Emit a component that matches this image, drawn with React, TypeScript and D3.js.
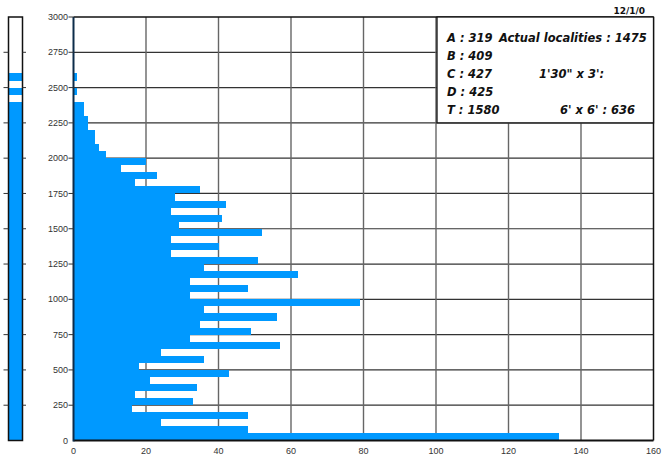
import React from "react";
import * as d3 from "d3";

// Histogram counts per 50-unit bin, from 0 upward (0-50, 50-100, ... 2950-3000)
const binSize = 50;
const counts: number[] = [
  134, 48, 24, 48, 16, 33, 17, 34, 21, 43,
  18, 36, 24, 57, 32, 49, 35, 56, 36, 79,
  32, 48, 32, 62, 36, 51, 27, 40, 27, 52,
  29, 41, 27, 42, 28, 35, 17, 23, 13, 20,
  9, 7, 6, 6, 4, 4, 3, 3, 0, 1,
  0, 1, 0, 0, 0, 0, 0, 0, 0, 0,
];
const yTicks: number[] = [0, 250, 500, 750, 1000, 1250, 1500, 1750, 2000, 2250, 2500, 2750, 3000];
const xTicks: number[] = [0, 20, 40, 60, 80, 100, 120, 140, 160];
const legendLeft: string[] = ["A : 319", "B : 409", "C : 427", "D : 425", "T : 1580"];
const legendRight: (string | null)[] = ["Actual localities : 1475", null, "1'30\" x 3':", null, "6' x 6' : 636"];
const legendRightX: number[] = [499, 0, 539, 0, 560];
const dateLabel = "12/1/0";

const BLUE = "#0099ff";

export default function App() {
  const x = d3.scaleLinear().domain([0, 160]).range([73.5, 653.5]);
  const y = d3.scaleLinear().domain([0, 3000]).range([440.5, 17]);
  const bins = counts.map((c, i) => ({ lo: i * binSize, hi: (i + 1) * binSize, c }));
  const stripX0 = 8.5, stripX1 = 22.5;
  const boxX = 437, boxY = y(3000), boxW = x(160) - 437, boxH = y(2250) - y(3000);
  const ry = (v: number) => Math.round(y(v));

  return (
    <svg width={664} height={458} style={{ position: "absolute", left: 0, top: 0, background: "#fff" }}
      fontFamily="'Liberation Sans', Arial, sans-serif">
      {/* left strip */}
      {bins.filter(b => b.c > 0).map((b, i) => (
        <rect key={"s" + i} x={stripX0} y={ry(b.hi)} width={stripX1 - stripX0} height={ry(b.lo) - ry(b.hi)} fill={BLUE} shapeRendering="crispEdges" />
      ))}
      <rect x={stripX0} y={y(3000)} width={stripX1 - stripX0} height={y(0) - y(3000)} fill="none" stroke="#111" strokeWidth={1.5} />
      {yTicks.filter(t => t > 0 && t < 3000).map(t => (
        <g key={"st" + t}>
          <line x1={3.5} x2={stripX0} y1={y(t)} y2={y(t)} stroke="#333" strokeWidth={1} />
          <line x1={stripX1} x2={26} y1={y(t)} y2={y(t)} stroke="#333" strokeWidth={1} />
        </g>
      ))}

      {/* gridlines */}
      {yTicks.filter(t => t > 0 && t < 3000).map(t => (
        <line key={"hg" + t} x1={x(0)} x2={x(160)} y1={y(t)} y2={y(t)} stroke="#333" strokeWidth={1.2} />
      ))}
      {xTicks.filter(t => t > 0 && t < 160).map(t => (
        <line key={"vg" + t} x1={x(t)} x2={x(t)} y1={y(3000)} y2={y(0)} stroke="#666" strokeWidth={1.4} />
      ))}

      {/* bars */}
      {bins.filter(b => b.c > 0).map((b, i) => (
        <rect key={"b" + i} x={x(0)} y={ry(b.hi)} width={x(b.c) - x(0)} height={ry(b.lo) - ry(b.hi)} fill={BLUE} shapeRendering="crispEdges" />
      ))}

      {/* frame */}
      <line x1={x(0)} x2={x(160)} y1={y(3000)} y2={y(3000)} stroke="#111" strokeWidth={1.5} />
      <line x1={x(160)} x2={x(160)} y1={y(3000)} y2={y(0)} stroke="#111" strokeWidth={1.5} />
      <line x1={x(0)} x2={x(160)} y1={y(0)} y2={y(0)} stroke="#111" strokeWidth={2} />
      <line x1={x(0)} x2={x(0)} y1={y(3000)} y2={y(0) + 1} stroke="#0d2c4a" strokeWidth={2} />

      {/* y axis ticks + labels */}
      {yTicks.map(t => (
        <g key={"yt" + t}>
          {t > 0 && <line x1={68.5} x2={x(0)} y1={y(t)} y2={y(t)} stroke="#333" strokeWidth={1} />}
          <text x={68} y={y(t)} dy="0.35em" textAnchor="end" fontSize={9} fill="#333">{t}</text>
        </g>
      ))}
      {/* x axis labels */}
      {xTicks.map(t => (
        <text key={"xt" + t} x={x(t)} y={454} textAnchor="middle" fontSize={9} fill="#333">{t}</text>
      ))}

      {/* legend box */}
      <rect x={boxX} y={boxY} width={boxW} height={boxH} fill="#fff" stroke="#111" strokeWidth={1.3} />
      <g fontFamily="'DejaVu Sans', sans-serif" fontWeight="bold" fontStyle="italic" fontSize={11.5} fill="#111">
        {legendLeft.map((s, i) => (
          <text key={"ll" + i} x={447} y={42.3 + i * 17.8}>{s}</text>
        ))}
        {legendRight.map((s, i) => s ? (
          <text key={"lr" + i} x={legendRightX[i]} y={42.3 + i * 17.8}>{s}</text>
        ) : null)}
      </g>
      <text x={645} y={13.5} textAnchor="end" fontFamily="'DejaVu Sans', sans-serif" fontWeight="bold" fontSize={9} fill="#111">{dateLabel}</text>
    </svg>
  );
}
